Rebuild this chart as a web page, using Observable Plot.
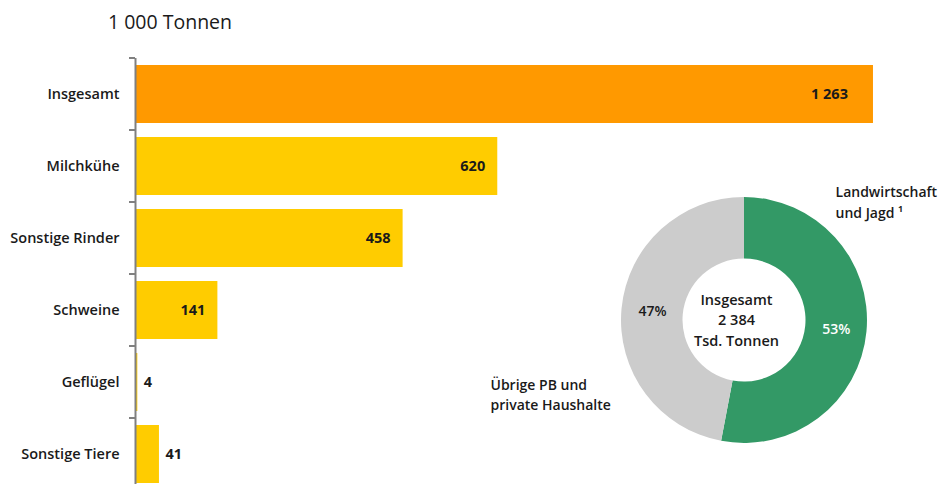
<!DOCTYPE html>
<html lang="de">
<head>
<meta charset="utf-8">
<script src="https://cdn.jsdelivr.net/npm/d3@7"></script>
<script src="https://cdn.jsdelivr.net/npm/@observablehq/plot@0.6"></script>
<style>
  html, body { margin: 0; padding: 0; background: #fff; overflow: hidden; }
  #chart { position: relative; width: 939px; height: 484px; font-family: "Open Sans", sans-serif; color: #1a1a1a; }
  #title { height: 44px; line-height: 44px; padding-left: 108px; font-size: 19.5px; font-weight: 400; }
  #donut { position: absolute; left: 469px; top: 170px; }
  svg { overflow: visible; }
</style>
</head>
<body>
<div id="chart">
  <div id="title">1 000 Tonnen</div>
  <div id="bars"></div>
  <div id="donut"></div>
</div>
<script>
// Emissionen nach Tierart, in 1 000 Tonnen
const categories = ["Insgesamt", "Milchkühe", "Sonstige Rinder", "Schweine", "Geflügel", "Sonstige Tiere"];
const values = [1263, 620, 458, 141, 4, 41];

// Anteile an den Gesamtemissionen (Tsd. Tonnen)
const shareNames = ["Landwirtschaft und Jagd", "Übrige PB und private Haushalte"];
const shareValues = [1263, 1121];

const barColors = {total: "#ff9900", part: "#ffcc00"};
const shareColors = ["#339966", "#cccccc"];
const textColor = "#1a1a1a";
const axisColor = "#808080";

const fmt = d3.formatLocale({decimal: ",", thousands: "\u00a0", grouping: [3], currency: ["", ""]}).format(",d");

const rows = categories.map((category, i) => ({
  category,
  value: values[i],
  kind: i === 0 ? "total" : "part"
}));

// Short tick marks on the category axis, placed on the boundaries between bands
function bandBoundaryTicks(index, scales) {
  const y = scales.y, x0 = scales.x(0);
  const gap = (y.step() - y.bandwidth()) / 2;
  const ys = categories.map(c => y(c) - gap);
  ys.push(y(categories[categories.length - 1]) + y.bandwidth() + gap);
  const g = d3.create("svg:g").attr("stroke", axisColor).attr("stroke-width", 2);
  g.selectAll("line").data(ys).join("line")
    .attr("x1", x0 - 6).attr("x2", x0).attr("y1", d => d).attr("y2", d => d);
  return g.node();
}

const bars = Plot.plot({
  width: 939,
  height: 446,
  marginTop: 14,
  marginBottom: 0,
  marginLeft: 135,
  marginRight: 0,
  style: {fontFamily: "Open Sans, sans-serif", fontSize: "14.5px", fontWeight: 600, color: textColor, background: "transparent"},
  x: {domain: [0, 1376], axis: null},
  y: {domain: categories, paddingInner: 0.2, paddingOuter: 0.1, label: null},
  color: {domain: ["total", "part"], range: [barColors.total, barColors.part]},
  marks: [
    Plot.barX(rows, {x: "value", y: "category", fill: "kind"}),
    Plot.axisY({tickSize: 0, tickPadding: 16, fontSize: 14.5, fill: textColor}),
    Plot.ruleX([0], {stroke: axisColor, strokeWidth: 2}),
    bandBoundaryTicks,
    // value labels: inside the bar for large values, right of the bar for small ones
    Plot.text(rows.filter(d => d.value >= 1000), {x: "value", y: "category", text: d => fmt(d.value), textAnchor: "middle", dx: -44, fill: textColor, fontSize: 14.5, fontWeight: 700}),
    Plot.text(rows.filter(d => d.value >= 100 && d.value < 1000), {x: "value", y: "category", text: d => fmt(d.value), textAnchor: "middle", dx: -25, fill: textColor, fontSize: 14.5, fontWeight: 700}),
    Plot.text(rows.filter(d => d.value < 100), {x: "value", y: "category", text: d => fmt(d.value), textAnchor: "start", dx: 6, fill: textColor, fontSize: 14.5, fontWeight: 700})
  ]
});
document.getElementById("bars").appendChild(bars);

// Donut: shares of total emissions
const total = d3.sum(shareValues);
const shares = shareNames.map((name, i) => ({name, value: shareValues[i]}));
const arcs = d3.pie().sort(null).value(d => d.value)(shares);
const innerRatio = 0.5;
const labelRadius = 0.75;
const pctLabels = arcs.map(a => {
  const mid = (a.startAngle + a.endAngle) / 2;
  return {
    name: a.data.name,
    x: labelRadius * Math.sin(mid),
    y: labelRadius * Math.cos(mid),
    text: Math.round(a.data.value / total * 100) + "%"
  };
});

function donutArcs(index, scales) {
  const cx = scales.x(0), cy = scales.y(0);
  const r = scales.x(1) - scales.x(0);
  const arc = d3.arc().innerRadius(r * innerRatio).outerRadius(r);
  const g = d3.create("svg:g").attr("transform", `translate(${cx},${cy})`);
  g.selectAll("path").data(arcs).join("path")
    .attr("d", arc)
    .attr("fill", d => scales.color(d.data.name));
  return g.node();
}

const donut = Plot.plot({
  width: 470,
  height: 314,
  margin: 0,
  style: {fontFamily: "Open Sans, sans-serif", fontSize: "14px", fontWeight: 600, color: textColor, background: "transparent"},
  x: {domain: [-275 / 123, 195 / 123], axis: null},
  y: {domain: [-164 / 123, 150 / 123], axis: null},
  color: {domain: shareNames, range: shareColors},
  marks: [
    donutArcs,
    Plot.text(pctLabels, {x: "x", y: "y", text: "text", fill: d => d.name === shareNames[0] ? "white" : textColor, fontSize: 14}),
    Plot.text([`Insgesamt\n${fmt(total)}\nTsd. Tonnen`], {x: -0.065, y: 0.016, text: d => d, textAnchor: "middle", lineHeight: 1.42, fill: textColor, fontSize: 14.5}),
    Plot.text(["Landwirtschaft\nund Jagd \u00b9"], {x: 0.74, y: 0.97, text: d => d, textAnchor: "start", lineHeight: 1.5, fill: textColor, fontSize: 14}),
    Plot.text(["Übrige PB und\nprivate Haushalte"], {x: -2.065, y: -0.593, text: d => d, textAnchor: "start", lineHeight: 1.43, fill: textColor, fontSize: 14})
  ]
});
document.getElementById("donut").appendChild(donut);
</script>
</body>
</html>
